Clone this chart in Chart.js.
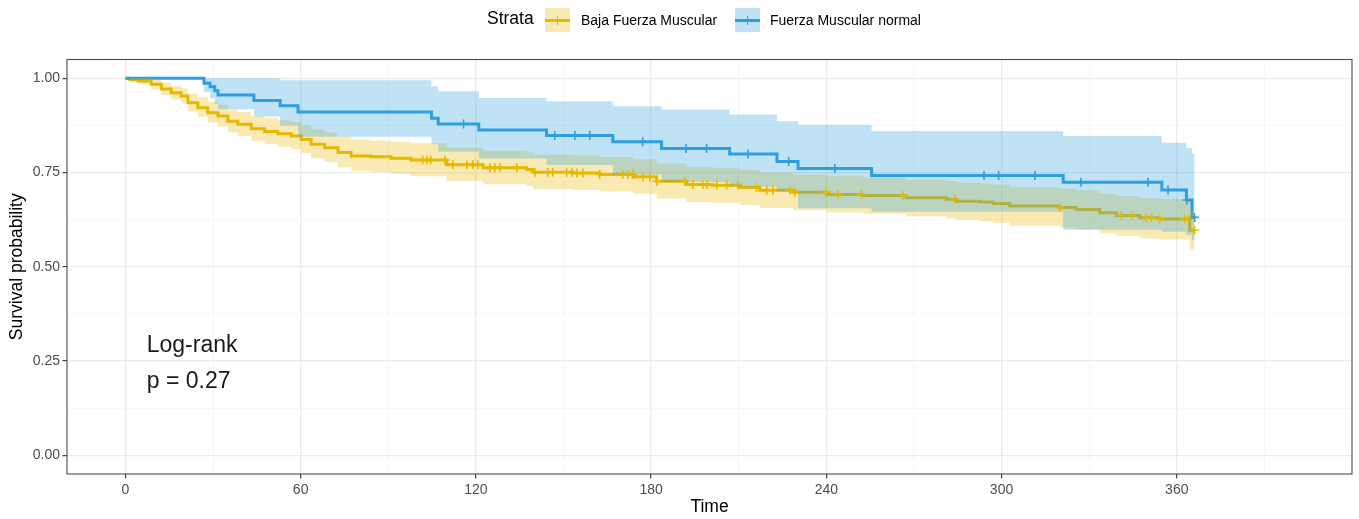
<!doctype html>
<html lang="es">

<head>
  <meta charset="utf-8">
  <title>Survival probability</title>
  <script src="https://cdn.jsdelivr.net/npm/chart.js@4.4.1/dist/chart.umd.min.js"></script>
  <style type="text/css">
    body {
      margin: 0;
      background: #ffffff;
      font-family: "Liberation Sans", Arial, Helvetica, sans-serif;
    }

    .wrap {
      position: relative;
      width: 1359px;
      height: 519px;
    }

    .leg {
      position: absolute;
      line-height: 1;
      white-space: nowrap;
      color: #000;
    }

    .key {
      position: absolute;
      width: 25px;
      height: 24px;
    }

    .key .h {
      position: absolute;
      left: 0;
      top: 10.5px;
      width: 25px;
      height: 3px;
    }

    .key .v {
      position: absolute;
      left: 11.75px;
      top: 7.5px;
      width: 1.5px;
      height: 9px;
    }
  </style>
</head>

<body>
  <div class="wrap">
    <canvas id="km" width="1359" height="519"></canvas>
    <!-- leyenda estilo ggplot -->
    <div class="leg" style="left:487px; top:10px; font-size:17.5px;">Strata</div>
    <div class="key" style="left:545px; top:8px; background:rgba(231,184,0,0.3);">
      <div class="h" style="background:#E7B800"></div>
      <div class="v" style="background:#E7B800"></div>
    </div>
    <div class="leg" id="lab0" style="left:581px; top:13px; font-size:14px;"></div>
    <div class="key" style="left:735px; top:8px; background:rgba(46,159,223,0.3);">
      <div class="h" style="background:#2E9FDF"></div>
      <div class="v" style="background:#2E9FDF"></div>
    </div>
    <div class="leg" id="lab1" style="left:770px; top:13px; font-size:14px;"></div>
  </div>

  <script>
    // grupos
    const strata = ['Baja Fuerza Muscular', 'Fuerza Muscular normal'];
    const strataColors = ['#E7B800', '#2E9FDF'];
    const ribbonColors = ['rgba(231,184,0,0.3)', 'rgba(46,159,223,0.3)'];

    // Baja Fuerza Muscular (amarillo)
    const bajaTime = [0, 1.5, 4.3, 8.8, 12.3, 15.7, 19.1, 21.4, 24.8, 28.2,
      31.7, 35.1, 38.5, 43.1, 47.7, 52.2, 56.8, 60.2, 63.6, 68.2,
      72.8, 77.3, 84.1, 91.0, 97.8, 110.0, 122.5, 137.4, 139.6, 153.2,
      162.4, 173.8, 181.9, 192.1, 201.2, 210.4, 217.2, 228.6, 240.1, 252.6,
      267.4, 281.1, 284.6, 292.5, 297.1, 302.8, 319.9, 325.6, 333.6, 339.3,
      347.3, 354.1, 364.4, 366.1];
    const bajaSurv = [1, 0.997, 0.993, 0.984, 0.972, 0.962, 0.953, 0.935, 0.922, 0.909,
      0.900, 0.886, 0.878, 0.866, 0.859, 0.853, 0.847, 0.838, 0.825, 0.816,
      0.803, 0.794, 0.792, 0.788, 0.783, 0.771, 0.763, 0.758, 0.751, 0.749,
      0.745, 0.739, 0.727, 0.718, 0.716, 0.710, 0.703, 0.698, 0.692, 0.689,
      0.683, 0.679, 0.674, 0.672, 0.668, 0.661, 0.657, 0.652, 0.643, 0.636,
      0.630, 0.627, 0.597, 0.597];
    const bajaUpper = [1, 1, 1, 0.996, 0.988, 0.980, 0.973, 0.960, 0.950, 0.938,
      0.930, 0.918, 0.911, 0.900, 0.894, 0.889, 0.884, 0.876, 0.864, 0.856,
      0.845, 0.837, 0.835, 0.832, 0.828, 0.816, 0.808, 0.803, 0.797, 0.795,
      0.791, 0.785, 0.774, 0.765, 0.763, 0.757, 0.750, 0.745, 0.740, 0.737,
      0.731, 0.728, 0.723, 0.721, 0.718, 0.711, 0.707, 0.703, 0.694, 0.688,
      0.682, 0.680, 0.652, 0.652];
    const bajaLower = [1, 0.990, 0.984, 0.970, 0.956, 0.944, 0.933, 0.912, 0.898, 0.883,
      0.872, 0.856, 0.847, 0.834, 0.826, 0.819, 0.812, 0.802, 0.788, 0.778,
      0.764, 0.754, 0.751, 0.746, 0.740, 0.728, 0.719, 0.714, 0.706, 0.704,
      0.700, 0.694, 0.681, 0.672, 0.670, 0.663, 0.656, 0.650, 0.644, 0.640,
      0.634, 0.629, 0.624, 0.621, 0.617, 0.609, 0.604, 0.599, 0.589, 0.582,
      0.575, 0.572, 0.545, 0.545];
    const bajaCensor = [101.8, 103.2, 104.5, 109.4, 112.1, 116.9, 119.0, 120.7, 124.8, 126.5,
      128.2, 134.0, 140.2, 144.6, 146.3, 151.1, 152.9, 154.6, 156.6, 162.4,
      170.3, 172.0, 173.7, 177.2, 179.6, 182.0, 191.5, 194.3, 197.7, 199.1,
      202.5, 205.9, 209.7, 216.1, 219.6, 221.7, 227.5, 229.2, 240.0, 244.0,
      252.0, 266.3, 284.0, 320.0, 341.0, 344.5, 349.6, 351.3, 354.2, 362.7,
      364.0, 366.1];

    // Fuerza Muscular normal (azul)
    const normalTime = [0, 26.9, 29.0, 30.6, 31.7, 44.0, 53.0, 59.1, 104.8, 107.1,
      121.0, 144.2, 166.9, 183.6, 206.9, 223.1, 230.3, 255.5, 321.1, 354.9,
      363.3, 365.2, 366.1];
    const normalSurv = [1, 0.987, 0.978, 0.967, 0.956, 0.941, 0.927, 0.911, 0.894, 0.879,
      0.863, 0.848, 0.832, 0.814, 0.799, 0.779, 0.761, 0.742, 0.724, 0.704,
      0.677, 0.631, 0.631];
    const normalUpper = [1, 1, 1, 1, 1, 1, 0.995, 0.995, 0.979, 0.966,
      0.948, 0.939, 0.926, 0.917, 0.904, 0.886, 0.877, 0.860, 0.847, 0.829,
      0.815, 0.800, 0.800];
    const normalLower = [1, 0.963, 0.947, 0.932, 0.918, 0.899, 0.875, 0.845, 0.825, 0.805,
      0.787, 0.770, 0.745, 0.725, 0.712, 0.700, 0.655, 0.646, 0.598, 0.593,
      0.585, 0.570, 0.570];
    const normalCensor = [115.8, 147.0, 153.9, 159.0, 177.1, 192.0, 199.0, 213.2, 227.1, 242.9,
      294.0, 299.0, 311.4, 327.2, 350.2, 357.0, 363.5, 366.1];

    // ejes
    const xTicks = [0, 30, 60, 90, 120, 150, 180, 210, 240, 270, 300, 330, 360, 390];
    const yTicks = [0, 0.125, 0.25, 0.375, 0.5, 0.625, 0.75, 0.875, 1];
    const xLabelStep = 60;
    const yLabelStep = 0.25;

    // texto del log-rank
    const pvalText = ['Log-rank', 'p = 0.27'];
    const pvalX = 7.3;
    const pvalY = [0.2746, 0.1775];

    document.getElementById('lab0').textContent = strata[0];
    document.getElementById('lab1').textContent = strata[1];

    function toPoints(times, values) {
      return times.map((t, i) => ({ x: t, y: values[i] }));
    }

    function survAt(times, surv, t) {
      let s = surv[0];
      for (let i = 0; i < times.length; i++) {
        if (times[i] <= t) s = surv[i];
      }
      return s;
    }

    function censorPoints(censor, times, surv) {
      return censor.map(t => ({ x: t, y: survAt(times, surv, t) }));
    }

    function isMajor(v, step) {
      return Math.abs(v / step - Math.round(v / step)) < 1e-6;
    }

    const fontFamily = '"Liberation Sans", Arial, Helvetica, sans-serif';
    Chart.defaults.font.family = fontFamily;

    const stepLine = (data, color, order) => ({
      type: 'line', data: data, borderColor: color, borderWidth: 3,
      pointRadius: 0, stepped: true, fill: false, order: order
    });
    const bandEdge = (data, fill, color, order) => ({
      type: 'line', data: data, borderColor: 'rgba(0,0,0,0)', borderWidth: 1,
      pointRadius: 0, stepped: true, fill: fill, backgroundColor: color, order: order
    });
    const censorSet = (data, color, order) => ({
      type: 'scatter', data: data, showLine: false, pointStyle: 'cross',
      pointRadius: 4.5, pointBorderWidth: 1.6, pointBorderColor: color,
      pointHoverRadius: 0, order: order
    });

    // marco del panel y texto log-rank
    const panelPlugin = {
      id: 'panel',
      afterDatasetsDraw(chart) {
        const { ctx, chartArea: a, scales: { x, y } } = chart;
        ctx.save();
        ctx.strokeStyle = '#4d4d4d';
        ctx.lineWidth = 1.1;
        ctx.strokeRect(a.left, a.top, a.right - a.left, a.bottom - a.top);
        ctx.fillStyle = '#1a1a1a';
        ctx.font = '23px ' + fontFamily;
        ctx.textBaseline = 'alphabetic';
        ctx.textAlign = 'left';
        for (let i = 0; i < pvalText.length; i++) {
          ctx.fillText(pvalText[i], x.getPixelForValue(pvalX), y.getPixelForValue(pvalY[i]));
        }
        ctx.restore();
      }
    };

    new Chart(document.getElementById('km'), {
      type: 'line',
      data: {
        datasets: [
          stepLine(toPoints(bajaTime, bajaSurv), strataColors[0], 10),
          stepLine(toPoints(normalTime, normalSurv), strataColors[1], 9),
          bandEdge(toPoints(bajaTime, bajaUpper), '+1', ribbonColors[0], 8),
          bandEdge(toPoints(bajaTime, bajaLower), false, ribbonColors[0], 8),
          bandEdge(toPoints(normalTime, normalUpper), '+1', ribbonColors[1], 7),
          bandEdge(toPoints(normalTime, normalLower), false, ribbonColors[1], 7),
          censorSet(censorPoints(bajaCensor, bajaTime, bajaSurv), strataColors[0], 6),
          censorSet(censorPoints(normalCensor, normalTime, normalSurv), strataColors[1], 5)
        ]
      },
      options: {
        responsive: false,
        animation: false,
        events: [],
        layout: { padding: { top: 59.5, right: 7, left: 0, bottom: 0 } },
        plugins: {
          legend: { display: false },
          tooltip: { enabled: false }
        },
        scales: {
          x: {
            type: 'linear',
            min: -20,
            max: 420,
            afterBuildTicks: s => { s.ticks = xTicks.map(v => ({ value: v })); },
            afterFit: s => { s.height = 45; },
            border: { display: false },
            grid: {
              color: c => isMajor(c.tick.value, xLabelStep) ? '#EBEBEB' : '#F4F4F4',
              lineWidth: c => isMajor(c.tick.value, xLabelStep) ? 1.3 : 0.7,
              tickColor: c => isMajor(c.tick.value, xLabelStep) ? '#333333' : 'rgba(0,0,0,0)',
              tickWidth: 1.1,
              tickLength: 4.5
            },
            ticks: {
              autoSkip: false,
              maxRotation: 0,
              padding: 3,
              color: '#4D4D4D',
              font: { size: 14 },
              callback: v => isMajor(v, xLabelStep) ? String(v) : ''
            },
            title: {
              display: true,
              text: 'Time',
              color: '#000',
              font: { size: 17.5 },
              padding: { top: 0, bottom: 1 }
            }
          },
          y: {
            type: 'linear',
            min: -0.05,
            max: 1.05,
            afterBuildTicks: s => { s.ticks = yTicks.map(v => ({ value: v })); },
            afterFit: s => { s.width = 67; },
            border: { display: false },
            grid: {
              color: c => isMajor(c.tick.value, yLabelStep) ? '#EBEBEB' : '#F4F4F4',
              lineWidth: c => isMajor(c.tick.value, yLabelStep) ? 1.3 : 0.7,
              tickColor: c => isMajor(c.tick.value, yLabelStep) ? '#333333' : 'rgba(0,0,0,0)',
              tickWidth: 1.1,
              tickLength: 4.5
            },
            ticks: {
              autoSkip: false,
              padding: 2.5,
              color: '#4D4D4D',
              font: { size: 14 },
              callback: v => isMajor(v, yLabelStep) ? v.toFixed(2) : ''
            },
            title: {
              display: true,
              text: 'Survival probability',
              color: '#000',
              font: { size: 17.5 },
              padding: { top: 7, bottom: 0 }
            }
          }
        }
      },
      plugins: [panelPlugin]
    });
  </script>
</body>

</html>
